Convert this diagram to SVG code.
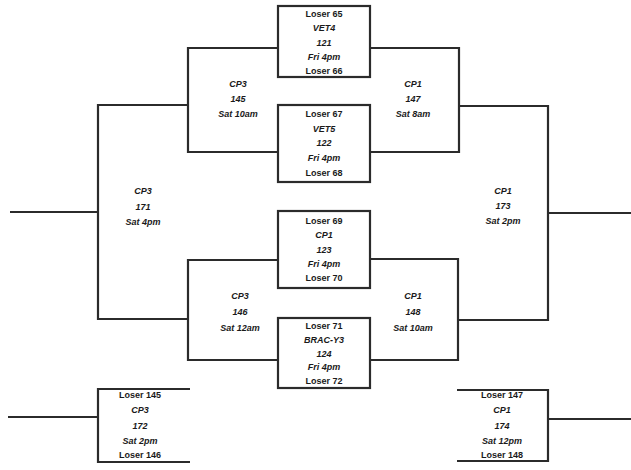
<svg xmlns="http://www.w3.org/2000/svg" width="631" height="470" viewBox="0 0 631 470">
<style>
.bg{fill:#fff}
.box{fill:#fff;stroke:#2b2b2b;stroke-width:2.2}
.ln{fill:none;stroke:#2b2b2b;stroke-width:2.2}
text{font-family:"Liberation Sans",Arial,sans-serif;font-size:9px;font-weight:bold;fill:#1a1a1a;text-anchor:middle}
.i{font-style:italic}
</style>
<rect class="bg" x="0" y="0" width="631" height="470"/>
<g id="connectors">
<path class="ln" d="M278 48 H188 V152 H278"/>
<path class="ln" d="M370 48 H459 V152 H370"/>
<path class="ln" d="M278 260 H188 V360 H278"/>
<path class="ln" d="M370 259 H458 V360 H370"/>
<path class="ln" d="M188 105 H98 V319 H188"/>
<path class="ln" d="M459 106 H548 V320 H458"/>
<path class="ln" d="M98 212 H10"/>
<path class="ln" d="M548 213 H631"/>
<path class="ln" d="M98 417 H8"/>
<path class="ln" d="M548 419 H631"/>
</g>
<g id="n121">
<rect class="box" x="278" y="6" width="92" height="71"/>
<text x="324" y="16.5">Loser 65</text>
<text class="i" x="324" y="31">VET4</text>
<text class="i" x="324" y="45.5">121</text>
<text class="i" x="324" y="60">Fri 4pm</text>
<text x="324" y="74">Loser 66</text>
</g>
<g id="n122">
<rect class="box" x="278" y="105" width="92" height="77"/>
<text x="324" y="116.5">Loser 67</text>
<text class="i" x="324" y="131.5">VET5</text>
<text class="i" x="324" y="145.5">122</text>
<text class="i" x="324" y="160.5">Fri 4pm</text>
<text x="324" y="175.5">Loser 68</text>
</g>
<g id="n123">
<rect class="box" x="278" y="211" width="92" height="77"/>
<text x="324" y="223.5">Loser 69</text>
<text class="i" x="324" y="237.5">CP1</text>
<text class="i" x="324" y="252.5">123</text>
<text class="i" x="324" y="266.5">Fri 4pm</text>
<text x="324" y="280.5">Loser 70</text>
</g>
<g id="n124">
<rect class="box" x="278" y="318" width="92" height="70"/>
<text x="324" y="328.5">Loser 71</text>
<text class="i" x="324" y="342.5">BRAC-Y3</text>
<text class="i" x="324" y="356.5">124</text>
<text class="i" x="324" y="369.5">Fri 4pm</text>
<text x="324" y="383.5">Loser 72</text>
</g>
<g id="n145">
<text class="i" x="238" y="86.5">CP3</text>
<text class="i" x="238" y="101.5">145</text>
<text class="i" x="238" y="116.5">Sat 10am</text>
</g>
<g id="n147">
<text class="i" x="413" y="86.5">CP1</text>
<text class="i" x="413" y="101.5">147</text>
<text class="i" x="413" y="116.5">Sat 8am</text>
</g>
<g id="n146">
<text class="i" x="240" y="298.5">CP3</text>
<text class="i" x="240" y="314.5">146</text>
<text class="i" x="240" y="330.5">Sat 12am</text>
</g>
<g id="n148">
<text class="i" x="413" y="298.5">CP1</text>
<text class="i" x="413" y="314.5">148</text>
<text class="i" x="413" y="330.5">Sat 10am</text>
</g>
<g id="n171">
<text class="i" x="143" y="193.5">CP3</text>
<text class="i" x="143" y="209.5">171</text>
<text class="i" x="143" y="224.5">Sat 4pm</text>
</g>
<g id="n173">
<text class="i" x="503" y="193.5">CP1</text>
<text class="i" x="503" y="208.5">173</text>
<text class="i" x="503" y="223.5">Sat 2pm</text>
</g>
<g id="n172">
<path class="ln" d="M190 389 H98 V462 H190"/>
<text x="140" y="398">Loser 145</text>
<text class="i" x="140" y="412.5">CP3</text>
<text class="i" x="140" y="428.5">172</text>
<text class="i" x="140" y="443.5">Sat 2pm</text>
<text x="140" y="457.5">Loser 146</text>
</g>
<g id="n174">
<path class="ln" d="M457 390 H548 V461 H457"/>
<text x="502" y="398">Loser 147</text>
<text class="i" x="502" y="412.5">CP1</text>
<text class="i" x="502" y="428.5">174</text>
<text class="i" x="502" y="443.5">Sat 12pm</text>
<text x="502" y="457.5">Loser 148</text>
</g>
</svg>
